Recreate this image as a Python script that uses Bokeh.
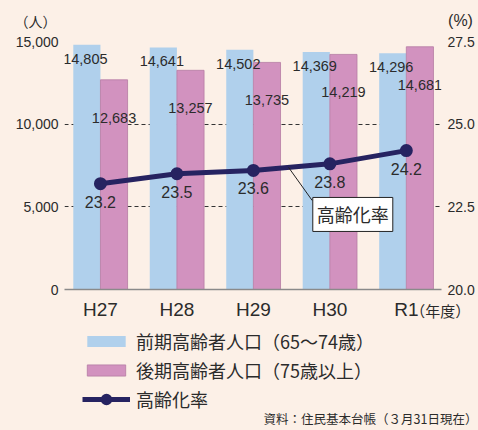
from bokeh.plotting import figure
from bokeh.layouts import column
from bokeh.models import (Range1d, LinearAxis, FixedTicker, NumeralTickFormatter,
                          Legend, LegendItem, Label, Arrow)
from bokeh.core.properties import value
from bokeh.embed import file_html
from bokeh.resources import INLINE

# ---- data ----
years = ["H27", "H28", "H29", "H30", "R1"]
early_elderly = [14805, 14641, 14502, 14369, 14296]   # 前期高齢者人口(65～74歳)
late_elderly = [12683, 13257, 13735, 14219, 14681]    # 後期高齢者人口(75歳以上)
aging_rate = [23.2, 23.5, 23.6, 23.8, 24.2]           # 高齢化率
left_ticks = [0, 5000, 10000, 15000]
right_ticks = [20.0, 22.5, 25.0, 27.5]
series_names = ["前期高齢者人口（65～74歳）", "後期高齢者人口（75歳以上）", "高齢化率"]

BG = "#FCF0E7"
BLUE = "#B0D0EC"
PINK = "#D292BF"
PINK_EDGE = "#b57ba3"
NAVY = "#262361"
TXT = "#2b2b2b"
NUM = "Liberation Sans"
JP = "Noto Sans CJK JP"

xs = list(range(len(years)))
bw = 0.355
xb = [x - bw / 2 for x in xs]
xp = [x + bw / 2 for x in xs]
X_LO, X_HI = -0.47, 4.46

# ---------------- main chart ----------------
p = figure(width=478, height=322, output_backend="svg", toolbar_location=None,
           x_range=Range1d(X_LO, X_HI), y_range=Range1d(0, 15000),
           min_border_left=64, min_border_right=37, min_border_top=41, min_border_bottom=33)
p.background_fill_color = BG
p.border_fill_color = BG
p.outline_line_color = None
p.extra_y_ranges = {"rate": Range1d(20, 27.5)}

# bars
p.vbar(x=xb, top=early_elderly, width=bw, fill_color=BLUE, line_color=None)
p.vbar(x=xp, top=late_elderly, width=bw, fill_color=PINK, line_color=PINK_EDGE, line_width=0.8)

# bar value labels
p.text(x=[x - 0.02 for x in xb], y=early_elderly, text=[f"{v:,}" for v in early_elderly],
       y_offset=14, text_align="center", text_baseline="middle",
       text_font=value(NUM), text_font_size="14.5px", text_color=TXT)
p.text(x=xp, y=late_elderly, text=[f"{v:,}" for v in late_elderly],
       y_offset=38, text_align="center", text_baseline="middle",
       text_font=value(NUM), text_font_size="14.5px", text_color=TXT)

# rate line
p.line(x=xs, y=aging_rate, y_range_name="rate", line_color=NAVY, line_width=5)
p.scatter(x=xs, y=aging_rate, y_range_name="rate", size=7, line_width=6,
          fill_color=NAVY, line_color=NAVY)
p.text(x=xs, y=aging_rate, y_range_name="rate", text=[f"{v:.1f}" for v in aging_rate],
       y_offset=18, text_align="center", text_baseline="middle",
       text_font=value(NUM), text_font_size="16px", text_color=TXT)

# axes
p.xaxis.ticker = FixedTicker(ticks=xs)
p.xaxis.major_label_overrides = {i: y for i, y in enumerate(years)}
p.xaxis.axis_line_color = "#8a8a8a"
p.xaxis.axis_line_width = 1.5
p.xaxis.major_tick_line_color = None
p.xaxis.major_tick_out = 0
p.xaxis.minor_tick_line_color = None
p.xaxis.major_label_standoff = 9
p.xaxis.major_label_text_font = NUM
p.xaxis.major_label_text_font_size = "19px"
p.xaxis.major_label_text_color = TXT

p.yaxis.ticker = FixedTicker(ticks=left_ticks)
p.yaxis.formatter = NumeralTickFormatter(format="0,0")
p.yaxis.axis_line_color = None
p.yaxis.major_tick_line_color = None
p.yaxis.major_tick_out = 0
p.yaxis.minor_tick_line_color = None
p.yaxis.major_label_standoff = 6
p.yaxis.major_label_text_font = NUM
p.yaxis.major_label_text_font_size = "14px"
p.yaxis.major_label_text_color = TXT

ra = LinearAxis(y_range_name="rate", ticker=FixedTicker(ticks=right_ticks),
                formatter=NumeralTickFormatter(format="0.0"))
ra.axis_line_color = None
ra.major_tick_line_color = None
ra.major_tick_out = 0
ra.minor_tick_line_color = None
ra.major_label_standoff = 6
ra.major_label_text_font = NUM
ra.major_label_text_font_size = "14px"
ra.major_label_text_color = TXT
p.add_layout(ra, "right")

p.xgrid.grid_line_color = None
p.ygrid.ticker = FixedTicker(ticks=left_ticks)
p.ygrid.grid_line_color = "#333333"
p.ygrid.grid_line_dash = "4 3"
p.ygrid.grid_line_width = 1

# axis unit titles (overlay text so they may sit outside the frame)
p.text(x=[X_LO], y=[15000], text=["（人）"], x_offset=-29, y_offset=-21,
       text_align="center", text_baseline="middle", level="overlay",
       text_font=value(JP), text_font_size="14px", text_color=TXT)
p.text(x=[X_HI], y=[27.5], y_range_name="rate", text=["(%)"], x_offset=19, y_offset=-21,
       text_align="center", text_baseline="middle", level="overlay",
       text_font=value(NUM), text_font_size="16px", text_color=TXT)
p.text(x=[4], y=[0], text=["（年度）"], x_offset=4, y_offset=21,
       text_align="left", text_baseline="middle", level="overlay",
       text_font=value(JP), text_font_size="15px", text_color=TXT)

# callout for the rate line
t = 0.46
p.add_layout(Arrow(x_start=2 + t, y_start=aging_rate[2] + t * (aging_rate[3] - aging_rate[2]),
                   x_end=2.77, y_end=22.69, y_range_name="rate", end=None,
                   line_color="#222222", line_width=1))
p.add_layout(Label(x=3.3, y=22.27, y_range_name="rate", text="高齢化率",
                   text_align="center", text_baseline="middle",
                   text_font=JP, text_font_size="18px", text_color=TXT,
                   background_fill_color="white", border_line_color="#222222",
                   border_line_width=1, padding=4))

# ---------------- legend + source strip ----------------
q = figure(width=478, height=108, output_backend="svg", toolbar_location=None,
           x_range=Range1d(X_LO, X_HI), y_range=Range1d(0, 108),
           x_axis_location=None, y_axis_location=None, min_border=0)
q.background_fill_color = BG
q.border_fill_color = BG
q.outline_line_color = None
q.grid.visible = False
# legend carriers: same series on a range that keeps them out of view
q.extra_y_ranges = {"off": Range1d(1e7, 2e7)}
kb = q.vbar(x=xb, top=early_elderly, width=bw, y_range_name="off", fill_color=BLUE, line_color=None)
kp = q.vbar(x=xp, top=late_elderly, width=bw, y_range_name="off", fill_color=PINK,
            line_color=PINK_EDGE, line_width=0.8)
kl = q.line(x=xs, y=aging_rate, y_range_name="off", line_color=NAVY, line_width=5)
ks = q.scatter(x=xs, y=aging_rate, y_range_name="off", size=7, line_width=6,
               fill_color=NAVY, line_color=NAVY)

legend = Legend(items=[
    LegendItem(label=series_names[0], renderers=[kb]),
    LegendItem(label=series_names[1], renderers=[kp]),
    LegendItem(label=series_names[2], renderers=[kl, ks]),
], location=(18, 18), orientation="vertical")
legend.background_fill_alpha = 0
legend.border_line_color = None
legend.padding = 0
legend.margin = 0
legend.spacing = 3
legend.glyph_width = 48
legend.glyph_height = 14
legend.label_height = 25
legend.label_standoff = 6
legend.label_text_font = JP
legend.label_text_font_size = "18px"
legend.label_text_color = TXT
q.add_layout(legend, "center")

q.text(x=[X_HI], y=[12], text=["資料：住民基本台帳（３月31日現在）"], x_offset=36,
       text_align="right", text_baseline="middle", level="overlay",
       text_font=value(JP), text_font_size="12.5px", text_color=TXT)

layout = column(p, q, spacing=0)

html = file_html(layout, INLINE)
html = html.replace("</head>", "<style>html, body {background: #FCF0E7;}</style></head>", 1)
open("out.html", "w").write(html)
